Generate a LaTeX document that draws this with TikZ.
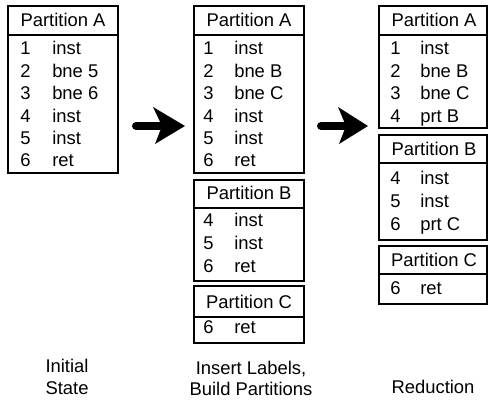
\documentclass[tikz,border=0pt]{standalone}
\usepackage{fontspec}
\setmainfont{Liberation Sans}
\usetikzlibrary{fit}
\begin{document}
\begin{tikzpicture}[x=0.75pt,y=-0.75pt,
  every node/.style={font=\fontsize{13.8}{16}\selectfont, inner sep=0pt, text=black},
  boxline/.style={draw, line width=1.5pt, inner sep=0pt},
  divline/.style={line width=1.5pt},
  hdr/.style={anchor=base},
  num/.style={anchor=base west},
  ins/.style={anchor=base west},
  captxt/.style={anchor=base},
  bigarrow/.style={line width=6pt, line cap=round},
]
\useasboundingbox (0,0) rectangle (489,402);

% ---------- Initial state ----------
\node[boxline, fit={(8,6)(118,173)}] (LA) {};
\draw[divline] (8,35) -- (118,35);
\node[hdr] (LAh) at (63,27) {Partition A};
\foreach \n/\t/\y [count=\i] in {1/inst/55,2/bne 5/77.4,3/bne 6/99.8,4/inst/122.2,5/inst/144.6,6/ret/167}{
  \node[num] (LAn\i) at (20,\y) {\n};
  \node[ins] (LAt\i) at (52,\y) {\t};
}

% ---------- Insert labels ----------
\node[boxline, fit={(194,6)(304,173)}] (MA) {};
\draw[divline] (194,35) -- (304,35);
\node[hdr] (MAh) at (249,27) {Partition A};
\foreach \n/\t/\y [count=\i] in {1/inst/55,2/bne B/77.4,3/bne C/99.8,4/inst/122.2,5/inst/144.6,6/ret/167}{
  \node[num] (MAn\i) at (203,\y) {\n};
  \node[ins] (MAt\i) at (234,\y) {\t};
}

\node[boxline, fit={(194,180)(304,281)}] (MB) {};
\draw[divline] (194,208) -- (304,208);
\node[hdr] (MBh) at (249,200) {Partition B};
\foreach \n/\t/\y [count=\i] in {4/inst/227,5/inst/250,6/ret/273}{
  \node[num] (MBn\i) at (203,\y) {\n};
  \node[ins] (MBt\i) at (234,\y) {\t};
}

\node[boxline, fit={(194,286)(304,343)}] (MC) {};
\draw[divline] (194,317) -- (304,317);
\node[hdr] (MCh) at (249,309) {Partition C};
\node[num] (MCn1) at (203,334) {6};
\node[ins] (MCt1) at (234,334) {ret};

% ---------- Reduction ----------
\node[boxline, fit={(379,6)(487,128)}] (RA) {};
\draw[divline] (379,35) -- (487,35);
\node[hdr] (RAh) at (434,27) {Partition A};
\foreach \n/\t/\y [count=\i] in {1/inst/55,2/bne B/77.5,3/bne C/100,4/prt B/122.5}{
  \node[num] (RAn\i) at (390,\y) {\n};
  \node[ins] (RAt\i) at (420,\y) {\t};
}

\node[boxline, fit={(379,135)(487,240)}] (RB) {};
\draw[divline] (379,163) -- (487,163);
\node[hdr] (RBh) at (434,156) {Partition B};
\foreach \n/\t/\y [count=\i] in {4/inst/185,5/inst/208,6/prt C/231}{
  \node[num] (RBn\i) at (390,\y) {\n};
  \node[ins] (RBt\i) at (420,\y) {\t};
}

\node[boxline, fit={(379,246)(487,304)}] (RC) {};
\draw[divline] (379,274) -- (487,274);
\node[hdr] (RCh) at (434,267) {Partition C};
\node[num] (RCn1) at (390,295) {6};
\node[ins] (RCt1) at (420,295) {ret};

% ---------- Arrows ----------
\coordinate (a1s) at (136,126);
\coordinate (a1e) at (160,126);
\coordinate (a1t) at (185,126);
\draw[bigarrow] (a1s) -- (a1e);
\fill (a1t) -- (153,107) -- (162,126) -- (155,144) -- cycle;

\coordinate (a2s) at (321,126);
\coordinate (a2e) at (345,126);
\coordinate (a2t) at (368,126);
\draw[bigarrow] (a2s) -- (a2e);
\fill (a2t) -- (338,107) -- (346,126) -- (339,144) -- cycle;

% ---------- Captions ----------
\node[captxt] (c1a) at (67,373) {Initial};
\node[captxt] (c1b) at (67,395) {State};
\node[captxt] (c2a) at (251,375) {Insert Labels,};
\node[captxt] (c2b) at (251,396) {Build Partitions};
\node[captxt] (c3) at (433,393) {Reduction};
\end{tikzpicture}
\end{document}
